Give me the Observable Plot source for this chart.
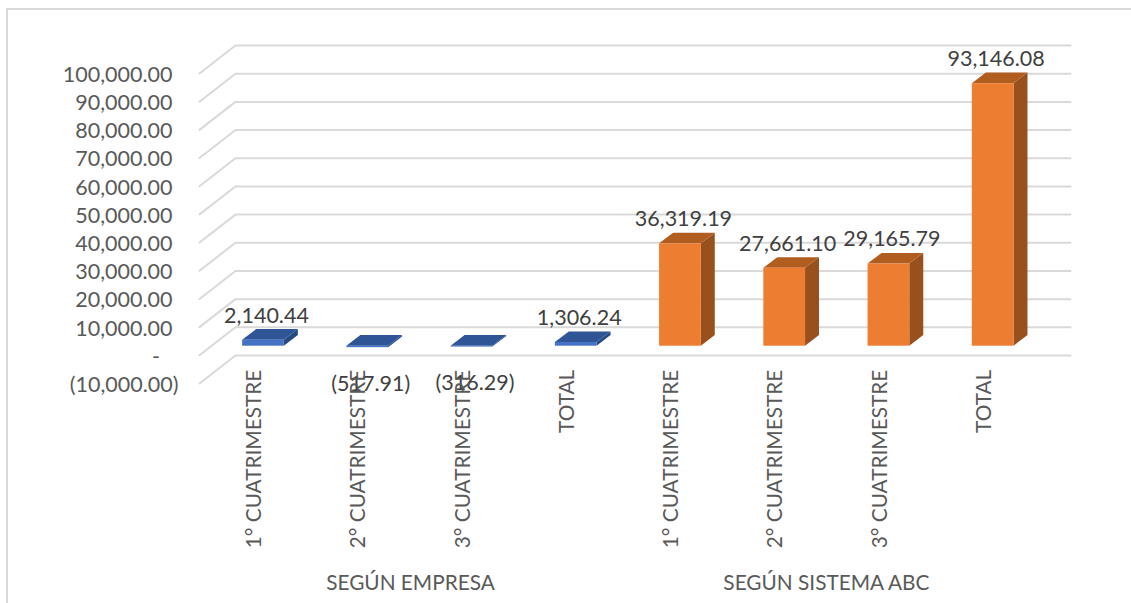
<!DOCTYPE html>
<html>
<head>
<meta charset="utf-8">
<script src="https://cdn.jsdelivr.net/npm/d3@7"></script>
<script src="https://cdn.jsdelivr.net/npm/@observablehq/plot@0.6"></script>
<style>
html,body{margin:0;padding:0;background:#fff;overflow:hidden}
#chart{position:absolute;left:0;top:0;width:1131px;height:603px}
#frame{position:absolute;left:6px;top:8px;width:1125px;height:595px;box-sizing:border-box;border-left:2px solid #d9d9d9;border-top:2px solid #d9d9d9}
svg{position:absolute;left:0;top:0}
</style>
</head>
<body>
<div id="frame"></div>
<div id="chart"></div>
<script>
const categories = ["1° CUATRIMESTRE","2° CUATRIMESTRE","3° CUATRIMESTRE","TOTAL"];
const empresaValues = [2140.44, -517.91, -316.29, 1306.24];
const abcValues = [36319.19, 27661.10, 29165.79, 93146.08];
const groupLabels = ["SEGÚN EMPRESA", "SEGÚN SISTEMA ABC"];
const yTicks = [100000,90000,80000,70000,60000,50000,40000,30000,20000,10000,0,-10000];
const empresaColors = {front:"#4472c4", top:"#2f5597", side:"#264a80"};
const abcColors = {front:"#ed7d31", top:"#b25d20", side:"#98501c"};

// Oblique depth expressed in scale units (x: category steps, y: chart value)
const barHalf = 0.2, barDepthX = 0.134, barDepthY = 3760;
const gridBackLift = 6700, gridFrontDrop = -3230;
const gridLeftBack = -0.269, gridLeftFront = -0.614, gridRight = 7.742, tickX = -0.873;
const catLabelY = -8350, groupLabelY = -84300;

const fmt = v => d3.format(",.2f")(Math.abs(v));
const lab = v => v < 0 ? `(${fmt(v)})` : fmt(v);
const tickLabel = v => v === 0 ? "-\u2007" : lab(v);

const bars = [
  ...empresaValues.map((v,i)=>({i, v, cat:categories[i], c:empresaColors})),
  ...abcValues.map((v,i)=>({i:i+4, v, cat:categories[i], c:abcColors}))
].map(d=>({...d, lo:Math.min(d.v,0), hi:Math.max(d.v,0)}));

const topRows = bars.flatMap(b=>[
  {z:b.i, fill:b.c.top, y:b.hi, x1:b.i-barHalf, x2:b.i+barHalf},
  {z:b.i, fill:b.c.top, y:b.hi+barDepthY, x1:b.i-barHalf+barDepthX, x2:b.i+barHalf+barDepthX}
]);
const sideRows = bars.flatMap(b=>[
  {z:b.i, fill:b.c.side, x:b.i+barHalf, y1:b.lo, y2:b.hi},
  {z:b.i, fill:b.c.side, x:b.i+barHalf+barDepthX, y1:b.lo+barDepthY, y2:b.hi+barDepthY}
]);
const gridSlant = yTicks.flatMap(v=>[
  {v, x:gridLeftFront, y:v+gridFrontDrop},
  {v, x:gridLeftBack, y:v+gridBackLift},
  {v, x:gridRight, y:v+gridBackLift}
]);

const axisFont = {fill:"#595959", fontSize:21.5, fontFamily:"Lato, 'Open Sans', sans-serif"};
const valueFont = {fill:"#404040", fontSize:21.5, fontFamily:"Lato, 'Open Sans', sans-serif"};

const plot = Plot.plot({
  width:1131, height:603,
  marginTop:0, marginRight:0, marginBottom:0, marginLeft:0,
  x:{type:"linear", domain:[-2.523,8.327], range:[0,1131], axis:null},
  y:{type:"linear", domain:[-91306,122676], range:[603,0], axis:null},
  color:{type:"identity"},
  style:{background:"transparent"},
  marks:[
    Plot.line(gridSlant,{x:"x",y:"y",z:"v",stroke:"#d9d9d9",strokeWidth:2}),
    Plot.text(yTicks.filter(v=>v>=0),{x:()=>tickX,y:v=>v+gridFrontDrop,text:tickLabel,textAnchor:"end",dy:1.5,...axisFont}),
    Plot.text(yTicks.filter(v=>v<0),{x:()=>tickX,y:v=>v+gridFrontDrop,text:tickLabel,textAnchor:"end",dx:6,dy:1.5,...axisFont}),
    Plot.areaY(sideRows,{x:"x",y1:"y1",y2:"y2",z:"z",fill:"fill"}),
    Plot.areaX(topRows,{y:"y",x1:"x1",x2:"x2",z:"z",fill:"fill"}),
    Plot.rect(bars,{x1:d=>d.i-barHalf,x2:d=>d.i+barHalf,y1:"lo",y2:"hi",fill:d=>d.c.front,inset:0}),
    Plot.text(bars.filter(d=>d.v>=0),{x:"i",y:"v",text:d=>lab(d.v),dx:3,dy:-24.5,...valueFont}),
    Plot.text(bars.filter(d=>d.v<0),{x:"i",y:"v",text:d=>lab(d.v),dx:3,dy:36,...valueFont}),
    Plot.text(bars,{x:"i",y:()=>catLabelY,text:"cat",rotate:-90,textAnchor:"end",dx:-9,...axisFont,fontSize:20.8}),
    Plot.text(groupLabels,{x:(d,i)=>i===0?1.41:5.4,y:()=>groupLabelY,text:d=>d,...axisFont,fontSize:20.8})
  ]
});
document.getElementById("chart").appendChild(plot);
</script>
</body>
</html>
